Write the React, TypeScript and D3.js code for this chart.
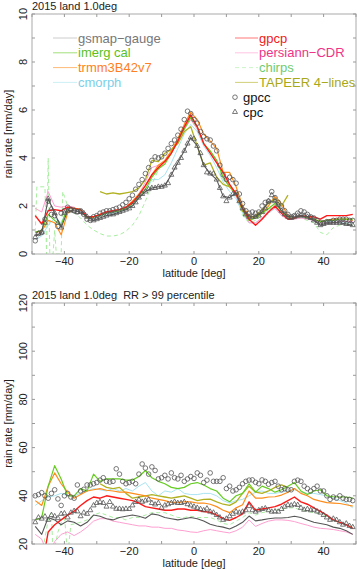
import React, { useEffect, useRef } from "react";
import * as d3 from "d3";

// latitude grids [deg]
const latOdd = [
  -49, -47, -45, -43, -41, -39, -37, -35, -33, -31,
  -29, -27, -25, -23, -21, -19, -17, -15, -13, -11,
  -9, -7, -5, -3, -1, 1, 3, 5, 7, 9,
  11, 13, 15, 17, 19, 21, 23, 25, 27, 29,
  31, 33, 35, 37, 39, 41, 43, 45, 47, 49,
];
const latAll = [
  -49, -48, -47, -46, -45, -44, -43, -42, -41, -40,
  -39, -38, -37, -36, -35, -34, -33, -32, -31, -30,
  -29, -28, -27, -26, -25, -24, -23, -22, -21, -20,
  -19, -18, -17, -16, -15, -14, -13, -12, -11, -10,
  -9, -8, -7, -6, -5, -4, -3, -2, -1, 0,
  1, 2, 3, 4, 5, 6, 7, 8, 9, 10,
  11, 12, 13, 14, 15, 16, 17, 18, 19, 20,
  21, 22, 23, 24, 25, 26, 27, 28, 29, 30,
  31, 32, 33, 34, 35, 36, 37, 38, 39, 40,
  41, 42, 43, 44, 45, 46, 47, 48, 49,
];
const latTapeer = [
  -29, -27, -25, -23, -21, -19, -17, -15, -13, -11,
  -9, -7, -5, -3, -1, 1, 3, 5, 7, 9,
  11, 13, 15, 17, 19, 21, 23, 25, 27, 29,
];
const latChirpsMean = [
  -49, -48.5, -46, -45.5, -45, -44.5, -43.5, -43, -42.5, -41,
  -40.5, -40, -39, -37, -35, -33, -31, -29, -27, -25,
  -23, -21, -19, -17, -15, -13, -11, -9, -7, -5,
  -3, -1, 1, 3, 5, 7, 9, 11, 13, 15,
  17, 19, 21, 23, 25, 27, 29, 31, 33, 35,
  37, 39, 41, 43, 45, 47, 49,
];
const latChirpsExtreme = [
  -47, -45, -44, -43.5, -42, -40, -39, -38, -35, -33,
  -31, -29, -27, -25, -23, -21, -19, -17, -15, -13,
  -11, -9, -7, -5, -3, -1, 1, 3, 5, 7,
  9, 11, 13, 15, 17, 19, 21, 23, 25, 27,
  29, 31, 33, 35, 37, 39, 41, 43, 45, 47,
  49,
];

// top panel: mean rain rate [mm/day]
const gsmapMean = [0.75, 0.9, 2.3, 1.7, 1.1, 1.8, 1.8, 1.75, 1.55, 1.4, 1.5, 1.6, 1.65, 1.75, 1.85, 2.0, 2.35, 2.6, 2.75, 2.8, 2.85, 3.3, 3.8, 4.3, 4.85, 4.5, 3.7, 3.35, 3.1, 2.4, 2.35, 2.55, 1.9, 1.55, 1.55, 1.75, 2.2, 2.2, 1.8, 1.55, 1.55, 1.6, 1.55, 1.4, 1.2, 1.3, 1.3, 1.3, 1.25, 1.2];
const imergMean = [0.9, 1.0, 1.65, 1.4, 1.2, 1.95, 1.9, 1.85, 1.5, 1.55, 1.6, 1.7, 1.75, 1.8, 1.9, 2.1, 2.35, 2.7, 3.2, 3.55, 3.75, 4.2, 4.7, 5.2, 5.7, 5.3, 4.6, 4.3, 3.9, 3.2, 2.8, 2.5, 1.8, 1.4, 1.5, 1.7, 1.9, 2.1, 1.8, 1.5, 1.5, 1.6, 1.5, 1.45, 1.35, 1.4, 1.4, 1.45, 1.45, 1.45];
const trmmMean = [0.9, 0.95, 1.4, 1.3, 0.8, 1.7, 1.9, 1.85, 1.5, 1.55, 1.65, 1.75, 1.8, 1.85, 1.95, 2.2, 2.5, 2.85, 3.3, 3.7, 3.9, 4.3, 4.8, 5.4, 5.9, 5.6, 5.0, 4.7, 4.4, 3.4, 3.4, 2.8, 2.0, 1.6, 1.5, 1.7, 2.0, 2.4, 2.1, 1.6, 1.5, 1.6, 1.55, 1.45, 1.35, 1.4, 1.45, 1.45, 1.45, 1.4];
const cmorphMean = [0.6, 0.75, 1.2, 1.5, 1.3, 1.9, 1.9, 1.8, 1.5, 1.5, 1.6, 1.65, 1.7, 1.75, 1.85, 2.0, 2.3, 2.6, 3.1, 3.1, 3.3, 3.8, 4.4, 5.0, 5.4, 5.1, 4.5, 4.1, 3.6, 3.0, 2.6, 2.3, 1.7, 1.3, 1.3, 1.5, 1.7, 1.9, 1.7, 1.5, 1.5, 1.55, 1.5, 1.45, 1.35, 1.35, 1.35, 1.3, 1.3, 1.3];
const gpcpMean = [1.6, 1.25, 1.8, 1.85, 1.8, 1.95, 1.9, 1.85, 1.55, 1.55, 1.65, 1.75, 1.8, 1.85, 1.95, 2.15, 2.45, 2.85, 3.3, 3.6, 3.85, 4.2, 4.7, 5.3, 5.8, 5.3, 4.6, 4.2, 3.8, 3.4, 2.9, 2.5, 1.9, 1.45, 1.2, 1.45, 1.75, 2.0, 1.7, 1.45, 1.5, 1.6, 1.55, 1.55, 1.45, 1.6, 1.6, 1.6, 1.6, 1.65];
const persiannMean = [1.9, 1.75, 2.6, 2.0, 1.95, 2.0, 1.95, 1.8, 1.55, 1.55, 1.65, 1.75, 1.8, 1.85, 1.95, 2.15, 2.5, 3.0, 3.6, 3.7, 3.85, 4.2, 4.7, 5.2, 5.6, 5.2, 4.6, 4.3, 3.9, 3.3, 2.8, 2.4, 1.8, 1.3, 1.3, 1.5, 1.8, 1.9, 1.6, 1.45, 1.45, 1.5, 1.45, 1.4, 1.3, 1.3, 1.3, 1.35, 1.35, 1.35];
const chirpsMean = [0.9, 2.8, 2.8, 0, 4.0, 0, 0, 1.0, 0, 0, 2.6, 2.4, 2.0, 1.7, 1.5, 1.2, 1.0, 0.85, 0.75, 0.75, 0.8, 0.95, 1.2, 1.6, 2.2, 2.9, 3.5, 3.9, 4.3, 4.8, 5.3, 5.6, 5.2, 4.6, 4.3, 3.8, 3.1, 2.8, 2.4, 1.6, 1.3, 1.4, 1.6, 1.85, 2.0, 1.7, 1.5, 1.45, 1.5, 1.4, 1.3, 0.9, 0.8, 1.1, 1.2, 1.25, 1.2];
const tapeerMean = [2.6, 2.5, 2.55, 2.5, 2.55, 2.6, 2.75, 3.1, 3.9, 3.85, 4.2, 4.35, 4.6, 5.1, 5.3, 4.5, 3.7, 3.8, 3.2, 2.9, 2.8, 2.55, 1.8, 1.5, 1.6, 1.85, 2.1, 2.3, 2.0, 2.45];
const gpccMean = [
  0.55, 0.85, 0.9, 1.45, 2.2, 1.65, 1.6, 1.15, 1.7, 1.8,
  1.95, 1.85, 1.8, 1.75, 1.8, 1.65, 1.45, 1.4, 1.55, 1.6,
  1.7, 1.75, 1.8, 1.8, 1.85, 1.9, 1.95, 2.05, 2.15, 2.3,
  2.45, 2.7, 2.9, 3.1, 3.35, 3.6, 3.9, 4.05, 4.0, 4.05,
  4.2, 4.4, 4.6, 4.75, 4.95, 5.2, 5.6, 5.95, 5.85, 5.6,
  5.45, 5.1, 4.9, 4.8, 4.75, 4.5, 4.3, 3.7, 3.3, 3.1,
  3.2, 3.1, 2.95, 2.5, 2.1, 1.8, 1.7, 1.75, 1.7, 1.75,
  2.0, 2.15, 2.2, 2.6, 2.35, 2.15, 2.0, 1.8, 1.65, 1.55,
  1.6, 1.7, 1.8, 1.75, 1.65, 1.55, 1.5, 1.4, 1.3, 1.3,
  1.35, 1.35, 1.4, 1.4, 1.45, 1.45, 1.45, 1.4, 1.4,
];
const cpcMean = [
  0.7, 0.85, 0.9, 1.3, 2.3, 1.9, 1.7, 1.3, 1.1, 1.7,
  1.8, 1.85, 1.8, 1.75, 1.75, 1.7, 1.55, 1.45, 1.4, 1.45,
  1.5, 1.55, 1.6, 1.65, 1.65, 1.7, 1.75, 1.8, 1.85, 1.9,
  2.0, 2.15, 2.35, 2.5, 2.6, 2.7, 2.75, 2.75, 2.8, 2.8,
  2.85, 2.95, 3.3, 3.6, 3.8, 4.0, 4.3, 4.6, 4.85, 4.8,
  4.5, 4.2, 3.7, 3.4, 3.35, 3.35, 3.1, 2.75, 2.4, 2.2,
  2.35, 2.5, 2.55, 2.2, 1.9, 1.65, 1.55, 1.55, 1.55, 1.6,
  1.75, 1.9, 2.2, 2.45, 2.2, 2.05, 1.8, 1.65, 1.55, 1.5,
  1.55, 1.6, 1.6, 1.6, 1.55, 1.5, 1.4, 1.3, 1.2, 1.25,
  1.3, 1.3, 1.3, 1.3, 1.3, 1.3, 1.25, 1.25, 1.2,
];

// bottom panel: rain rate above the 99th percentile [mm/day]
const gsmapExtreme = [27.3, 24, 31, 30, 28, 29.6, 29, 27.5, 29, 32, 31.5, 30.5, 30, 31, 31.5, 32, 31.5, 30.7, 32.5, 32, 31, 30.5, 30, 30.5, 31, 30.5, 29.5, 28.2, 27.5, 27, 26.2, 27.5, 29, 31.6, 29.6, 30, 30.5, 30.8, 30.8, 31, 31.5, 31, 30, 29, 28.5, 28, 27, 26.5, 25.5, 24];
const imergExtreme = [30, 31, 44, 52.5, 47, 40, 40, 43, 42, 49, 46, 47, 47, 47, 46.5, 46.5, 48, 50.5, 47.5, 46, 45, 43.5, 43, 43.5, 45, 45.5, 44.5, 43, 42, 39, 37.5, 40, 41, 45, 41.5, 44, 43, 41.5, 42.5, 44, 45.5, 42, 40.5, 42, 42.5, 40, 39.6, 39.5, 39.5, 39];
const trmmExtreme = [38, 36, 44, 49.5, 45, 41.5, 39, 40.5, 42, 42.5, 43, 42.3, 42, 41.5, 41.5, 41, 40.5, 40, 39, 38.5, 38, 37.3, 37.3, 37.5, 37.5, 37, 37, 36.5, 35.5, 34, 33, 35, 36.3, 42, 39, 39, 39.5, 39.6, 40.3, 41.5, 43, 41, 40, 38.5, 37.8, 37.2, 37, 36.8, 36.3, 35.7];
const cmorphExtreme = [36, 38, 39.5, 40, 41, 40, 40, 41, 42, 43, 42.5, 42, 43, 42, 43, 42, 44, 45.5, 42, 40, 42, 41.5, 43, 41, 40.5, 40.5, 41, 41, 40, 38, 37, 38, 38.5, 40, 41.5, 42, 41, 41, 41.5, 42, 42.5, 41.5, 41, 41, 40.5, 40, 39, 38, 37, 35];
const gpcpExtreme = [10, 10, 25, 28, 30, 32, 33.6, 36, 38, 39.5, 39, 40, 39.5, 39, 38.5, 38, 37, 35.5, 35, 34.5, 34, 34, 34.5, 34.5, 34, 34, 33.5, 33.2, 32, 30.5, 29.8, 31, 32.5, 37.5, 34, 34.5, 35, 35.5, 36.5, 38, 39.5, 37.5, 36.5, 35, 33.5, 32, 30, 29, 28, 26.5];
const persiannExtreme = [24, 22, 15, 21, 24, 25, 23.5, 25, 27, 29.5, 30.5, 30.5, 29.5, 29, 28.5, 28, 27.5, 27.5, 27, 27, 26.5, 26.5, 25.8, 25.5, 25, 24.8, 25.5, 26, 25.5, 25, 24.6, 25.5, 27, 30, 27.3, 28.5, 29.5, 30, 30, 29.8, 29.3, 28.5, 27.8, 27, 26.5, 26.3, 26, 25.5, 25, 24];
const chirpsExtreme = [15, 30, 33, 15, 25, 32, 15, 28, 29, 30, 32, 33, 32, 31, 31, 30, 31, 31, 32, 33, 33, 33, 32, 31, 31, 31.5, 31, 31, 31, 30, 28.5, 28, 29.5, 31, 33, 32, 33, 33.5, 34, 34.5, 35, 35, 34, 33.5, 33, 32.5, 31.5, 30, 29, 28, 27];
const tapeerExtreme = [45, 43.5, 43, 43.5, 41, 39, 39.5, 40, 40.5, 40, 39.5, 39, 39.5, 40, 39, 38, 38.5, 38.6, 37.5, 36.5, 36, 37.5, 41, 44, 41.5, 41, 42, 43.5, 44.5, 43.5];
const gpccExtreme = [
  40, 40.5, 41.3, 40, 39, 41, 42.5, 38.7, 36, 40,
  41, 39.5, 39, 44.5, 42, 42.7, 44.5, 44.5, 45, 45.5,
  46.5, 47.5, 46, 45.7, 46, 51.2, 49, 46, 45, 45.5,
  46, 45, 49, 53.2, 51.5, 49, 52, 50.5, 47, 47.5,
  48.5, 47, 49.5, 47.5, 47, 48.5, 46, 47, 48, 47.2,
  49.5, 48.5, 45.5, 46.5, 49.5, 46, 46, 46, 47.5, 43,
  44, 42, 42.5, 43.5, 45, 46, 46.5, 46.6, 45.6, 45,
  46.6, 46, 44.8, 45.5, 46, 44, 42.5, 43, 42.5, 42.5,
  46, 46.5, 46, 44, 43, 42, 43, 44, 42, 42,
  40, 38.5, 39.5, 39, 40, 39, 38.5, 38.5, 38,
];
const cpcExtreme = [
  29, 31, 30.5, 31.4, 30, 32, 31.5, 30.7, 32.5, 32.7,
  31, 33, 33.7, 33.5, 31.5, 33, 32.5, 34, 36, 37,
  37.4, 37, 35.5, 37.4, 35.5, 34.6, 34.6, 34.4, 34.6, 34.5,
  36, 37.4, 38.4, 37.5, 38, 38.4, 37, 36.4, 37, 35,
  36, 36.5, 37, 37.5, 37, 37, 37.4, 36.5, 36, 35.5,
  35, 34.5, 34, 34.7, 33.4, 33, 32, 31, 30, 30.5,
  31.5, 32.5, 33.4, 33, 33.4, 34, 35.7, 34, 33.4, 34,
  34.5, 34.8, 34, 33.4, 33.5, 33.4, 34.5, 35.5, 36.2, 36,
  36.5, 36.2, 35, 34.2, 34.5, 34, 34.2, 33.5, 33, 32,
  31, 30, 30.5, 30, 29, 28, 28.5, 27.5, 27,
];

const FONT = "'Liberation Sans', Arial, sans-serif";
const MINUS = "\u2212";

type Line = {
  name: string; lat: number[]; values: number[];
  color: string; text: string; width: number; dash?: string;
};

export default function App() {
  const ref = useRef<SVGSVGElement>(null);

  useEffect(() => {
    const svg = d3.select(ref.current);
    svg.selectAll("*").remove();

    const x = d3.scaleLinear().domain([-50, 50]).range([32, 356]);

    const styles = {
      gsmap: { name: `gsmap${MINUS}gauge`, color: "#555", text: "#777", width: 1.1 },
      imerg: { name: "imerg cal", color: "#66cc22", text: "#5cbf22", width: 1.2 },
      trmm: { name: "trmm3B42v7", color: "#ff8c1a", text: "#ff8020", width: 1.2 },
      cmorph: { name: "cmorph", color: "#a8e4f0", text: "#7ccfe8", width: 1 },
      gpcp: { name: "gpcp", color: "#ff1a1a", text: "#f02020", width: 1.4 },
      persiann: { name: `persiann${MINUS}CDR`, color: "#ff9fd0", text: "#ee3388", width: 1 },
      chirps: { name: "chirps", color: "#a8eea0", text: "#70cc70", width: 1, dash: "4,3" },
      tapeer: { name: `TAPEER 4${MINUS}lines`, color: "#b0b020", text: "#a8a818", width: 1.3 },
    };

    const panels = [
      {
        top: 14, bottom: 254, domain: [0, 10], major: 2, minor: 1,
        title: "2015 land 1.0deg", titleY: 10, xLabelY: 265, xTitleY: 277,
        gpcc: gpccMean, cpc: cpcMean, legend: true,
        lines: [
          { ...styles.chirps, lat: latChirpsMean, values: chirpsMean },
          { ...styles.cmorph, lat: latOdd, values: cmorphMean },
          { ...styles.persiann, lat: latOdd, values: persiannMean },
          { ...styles.trmm, lat: latOdd, values: trmmMean },
          { ...styles.imerg, lat: latOdd, values: imergMean },
          { ...styles.tapeer, lat: latTapeer, values: tapeerMean },
          { ...styles.gpcp, lat: latOdd, values: gpcpMean },
          { ...styles.gsmap, lat: latOdd, values: gsmapMean },
        ] as Line[],
      },
      {
        top: 303, bottom: 544, domain: [20, 120], major: 20, minor: 10,
        title: "2015 land 1.0deg  RR > 99 percentile", titleY: 299, xLabelY: 555, xTitleY: 567,
        gpcc: gpccExtreme, cpc: cpcExtreme, legend: false,
        lines: [
          { ...styles.chirps, lat: latChirpsExtreme, values: chirpsExtreme },
          { ...styles.persiann, lat: latOdd, values: persiannExtreme },
          { ...styles.cmorph, lat: latOdd, values: cmorphExtreme },
          { ...styles.gsmap, lat: latOdd, values: gsmapExtreme },
          { ...styles.tapeer, lat: latTapeer, values: tapeerExtreme },
          { ...styles.trmm, lat: latOdd, values: trmmExtreme },
          { ...styles.imerg, lat: latOdd, values: imergExtreme },
          { ...styles.gpcp, lat: latOdd, values: gpcpExtreme },
        ] as Line[],
      },
    ];

    const defs = svg.append("defs");
    const triangle = d3.symbol().type(d3.symbolTriangle).size(11);

    panels.forEach((p, pi) => {
      const y = d3.scaleLinear().domain(p.domain).range([p.bottom, p.top]);
      const [x0, x1] = x.range();
      const g = svg.append("g");

      defs.append("clipPath").attr("id", `clip${pi}`)
        .append("rect")
          .attr("x", x0).attr("y", p.top)
          .attr("width", x1 - x0).attr("height", p.bottom - p.top);

      const plot = g.append("g").attr("clip-path", `url(#clip${pi})`);
      const line = d3.line<[number, number]>().x((d) => x(d[0])).y((d) => y(d[1]));

      p.lines.forEach((s) => {
        plot.append("path")
          .datum(s.lat.map((la, i) => [la, s.values[i]] as [number, number]))
          .attr("d", line)
          .attr("fill", "none")
          .attr("stroke", s.color)
          .attr("stroke-width", s.width)
          .attr("stroke-dasharray", s.dash || null)
          .attr("stroke-linejoin", "round");
      });

      // gpcc circles
      plot.selectAll("circle.gpcc")
        .data(latAll.map((la, i) => [la, p.gpcc[i]]))
        .enter()
          .append("circle")
          .attr("cx", (d) => x(d[0]))
          .attr("cy", (d) => y(d[1]))
          .attr("r", 2.3)
          .attr("fill", "none")
          .attr("stroke", "#555")
          .attr("stroke-width", 0.8);

      // cpc triangles
      plot.selectAll("path.cpc")
        .data(latAll.map((la, i) => [la, p.cpc[i]]))
        .enter()
          .append("path")
          .attr("d", triangle as any)
          .attr("transform", (d) => `translate(${x(d[0])},${y(d[1])})`)
          .attr("fill", "none")
          .attr("stroke", "#555")
          .attr("stroke-width", 0.8);

      // frame
      g.append("rect")
        .attr("x", x0).attr("y", p.top)
        .attr("width", x1 - x0).attr("height", p.bottom - p.top)
        .attr("fill", "none").attr("stroke", "#aaa").attr("stroke-width", 1);

      // x ticks, inward on bottom and top
      const xTicks = d3.range(-50, 51, 10);
      xTicks.forEach((t) => {
        g.append("line").attr("x1", x(t)).attr("x2", x(t))
          .attr("y1", p.bottom).attr("y2", p.bottom - 3).attr("stroke", "#999");
        g.append("line").attr("x1", x(t)).attr("x2", x(t))
          .attr("y1", p.top).attr("y2", p.top + 3).attr("stroke", "#999");
      });
      [-40, -20, 0, 20, 40].forEach((t) => {
        g.append("text")
          .attr("x", x(t)).attr("y", p.xLabelY)
          .attr("text-anchor", "middle")
          .style("font", `11px ${FONT}`).attr("fill", "#222")
          .text(t < 0 ? `${MINUS}${-t}` : `${t}`);
      });
      g.append("text")
        .attr("x", (x0 + x1) / 2).attr("y", p.xTitleY)
        .attr("text-anchor", "middle")
        .style("font", `11px ${FONT}`).attr("fill", "#222")
        .text("latitude [deg]");

      // y ticks, inward on left and right
      const yTicks = d3.range(p.domain[0], p.domain[1] + 0.001, p.minor);
      yTicks.forEach((t) => {
        g.append("line").attr("x1", x0).attr("x2", x0 + 3)
          .attr("y1", y(t)).attr("y2", y(t)).attr("stroke", "#999");
        g.append("line").attr("x1", x1).attr("x2", x1 - 3)
          .attr("y1", y(t)).attr("y2", y(t)).attr("stroke", "#999");
      });
      d3.range(p.domain[0], p.domain[1] + 0.001, p.major).forEach((t) => {
        g.append("text")
          .attr("transform", `translate(27,${y(t)}) rotate(-90)`)
          .attr("text-anchor", "middle")
          .style("font", `11px ${FONT}`).attr("fill", "#222")
          .text(t);
      });
      g.append("text")
        .attr("transform", `translate(12,${(p.top + p.bottom) / 2}) rotate(-90)`)
        .attr("text-anchor", "middle")
        .style("font", `11px ${FONT}`).attr("fill", "#222")
        .text("rain rate [mm/day]");

      // title
      g.append("text")
        .attr("x", x0).attr("y", p.titleY)
        .attr("xml:space", "preserve")
        .style("font", `11px ${FONT}`).style("white-space", "pre").attr("fill", "#222")
        .text(p.title);

      if (!p.legend) return;

      // legend
      const rowY = (i: number) => 38 + i * 14.8;
      const leftCol = [styles.gsmap, styles.imerg, styles.trmm, styles.cmorph];
      const rightCol = [styles.gpcp, styles.persiann, styles.chirps, styles.tapeer];
      const legendLine = (s: any, i: number, lx0: number, lx1: number) => {
        g.append("line")
          .attr("x1", lx0).attr("x2", lx1).attr("y1", rowY(i)).attr("y2", rowY(i))
          .attr("stroke", s === styles.gsmap ? "#aaa" : s.color)
          .attr("stroke-opacity", 0.6)
          .attr("stroke-width", 1)
          .attr("stroke-dasharray", s.dash || null);
        g.append("text")
          .attr("x", lx1 + 1).attr("y", rowY(i)).attr("dy", "0.35em")
          .style("font", `13px ${FONT}`).attr("fill", s.text)
          .text(s.name);
      };
      leftCol.forEach((s, i) => legendLine(s, i, 53, 77));
      rightCol.forEach((s, i) => legendLine(s, i, 235, 258));

      g.append("circle")
        .attr("cx", 235).attr("cy", rowY(4)).attr("r", 2.3)
        .attr("fill", "none").attr("stroke", "#555").attr("stroke-width", 0.8);
      g.append("path")
        .attr("d", triangle as any)
        .attr("transform", `translate(235,${rowY(5)})`)
        .attr("fill", "none").attr("stroke", "#555").attr("stroke-width", 0.8);
      ["gpcc", "cpc"].forEach((t, i) => {
        g.append("text")
          .attr("x", 243).attr("y", rowY(4 + i)).attr("dy", "0.35em")
          .style("font", `13px ${FONT}`).attr("fill", "#111")
          .text(t);
      });
    });
  }, []);

  return (
    <svg
      ref={ref}
      width={357}
      height={570}
      style={{ position: "absolute", left: 0, top: 0, background: "#fff" }}
    />
  );
}
